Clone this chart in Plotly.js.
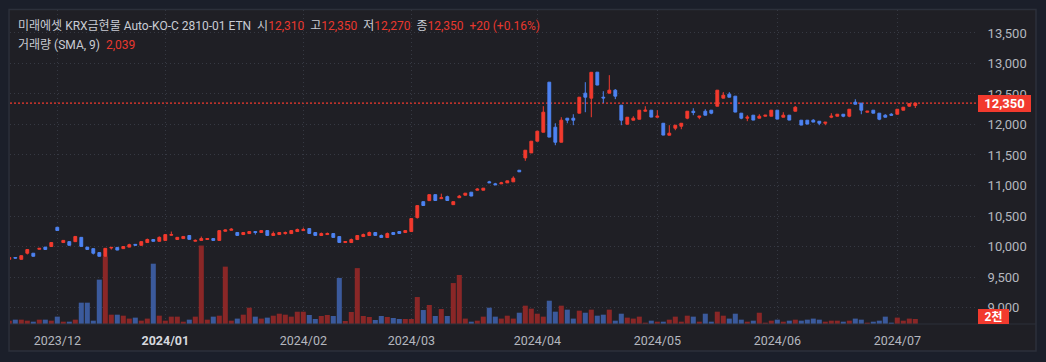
<!DOCTYPE html>
<html>
<head>
<meta charset="utf-8">
<script src="https://cdn.plot.ly/plotly-3.0.1.min.js"></script>
<style>
  html, body { margin: 0; padding: 0; background: #1b1f2a; }
  #chart { width: 1046px; height: 362px; }
</style>
</head>
<body>
<div id="chart"></div>
<script>
// ---- data (one entry per trading day, left to right) ----
const openP = [
  9790, 9820, 9790, 9890, 9890, 9955, 9990, 10000, 10315, 10065,
  10080, 10080, 10150, 9990, 9965, 9900, 9840, 9975, 9985, 9965,
  9990, 10035, 10020, 10065, 10115, 10085, 10100, 10185, 10115, 10130,
  10180, 10087, 10100, 10115, 10130, 10100, 10250, 10266, 10230, 10196,
  10212, 10245, 10229, 10261, 10180, 10196, 10212, 10212, 10245, 10261,
  10294, 10229, 10180, 10196, 10212, 10163, 10065, 10065, 10114, 10163,
  10180, 10229, 10180, 10147, 10229, 10245, 10229, 10245, 10474, 10735,
  10752, 10850, 10784, 10817, 10686, 10800, 10841, 10890, 10923, 10923,
  11060, 11027, 11027, 11043, 11060, 11250, 11452, 11534, 11726, 11873,
  12693, 11955, 11709, 12103, 12103, 12185, 12513, 12431, 12857, 12447,
  12513, 12562, 12316, 12004, 12070, 12086, 12217, 12234, 12119, 12020,
  11824, 11939, 11971, 12103, 12217, 12119, 12217, 12234, 12299, 12431,
  12497, 12464, 12185, 12103, 12152, 12103, 12135, 12135, 12234, 12119,
  12152, 12217, 12070, 12070, 12070, 12053, 12020, 12119, 12135, 12168,
  12135, 12365, 12349, 12201, 12234, 12185, 12152, 12168, 12168, 12234,
  12300, 12310
];
const highP = [
  9825, 9822, 9852, 9955, 9892, 9972, 9992, 10065, 10318, 10100,
  10082, 10165, 10152, 9992, 9967, 9902, 9970, 9988, 9987, 10000,
  10045, 10036, 10082, 10130, 10117, 10165, 10196, 10245, 10150, 10165,
  10182, 10115, 10163, 10132, 10132, 10262, 10280, 10300, 10232, 10230,
  10246, 10247, 10262, 10263, 10245, 10230, 10245, 10262, 10294, 10310,
  10296, 10231, 10229, 10229, 10214, 10165, 10084, 10130, 10181, 10212,
  10245, 10231, 10196, 10229, 10231, 10247, 10262, 10460, 10672, 10737,
  10852, 10852, 10866, 10833, 10737, 10845, 10876, 10892, 10956, 10958,
  11076, 11043, 11060, 11078, 11150, 11252, 11580, 11728, 11892, 12300,
  12695, 12020, 12119, 12105, 12168, 12449, 12693, 12857, 12859, 12545,
  12808, 12580, 12318, 12121, 12135, 12236, 12299, 12236, 12234, 12022,
  11988, 11990, 12022, 12219, 12266, 12137, 12250, 12236, 12564, 12530,
  12530, 12466, 12187, 12152, 12154, 12168, 12154, 12236, 12236, 12201,
  12154, 12299, 12072, 12072, 12086, 12055, 12039, 12185, 12170, 12170,
  12252, 12414, 12351, 12219, 12236, 12187, 12168, 12185, 12252, 12285,
  12350, 12350
];
const lowP = [
  9785, 9805, 9788, 9870, 9836, 9953, 9950, 9998, 10260, 10063,
  10018, 10078, 10000, 9950, 9870, 9836, 9836, 9950, 9940, 9963,
  9988, 10020, 10018, 10063, 10083, 10083, 10098, 10180, 10113, 10128,
  10115, 10085, 10098, 10113, 10098, 10098, 10248, 10264, 10180, 10194,
  10210, 10196, 10227, 10180, 10178, 10194, 10196, 10210, 10243, 10259,
  10212, 10180, 10178, 10194, 10147, 10065, 10063, 10063, 10112, 10161,
  10178, 10180, 10147, 10145, 10196, 10212, 10227, 10243, 10458, 10670,
  10750, 10752, 10782, 10752, 10684, 10797, 10839, 10825, 10921, 10921,
  11043, 11010, 11025, 11041, 11058, 11222, 11404, 11532, 11724, 11871,
  11791, 11660, 11707, 12020, 11988, 12183, 12201, 12119, 12644, 12350,
  12511, 12415, 11988, 12002, 12068, 12084, 12215, 12119, 12117, 11824,
  11822, 11906, 11922, 12086, 12152, 12086, 12150, 12168, 12297, 12429,
  12445, 12201, 12086, 12054, 12070, 12101, 12133, 12133, 12086, 12117,
  12070, 12215, 11988, 12004, 12037, 11988, 11988, 12103, 12133, 12119,
  12119, 12330, 12168, 12199, 12183, 12070, 12117, 12150, 12166, 12232,
  12290, 12270
];
const closeP = [
  9820, 9810, 9850, 9950, 9840, 9970, 9952, 10065, 10262, 10100,
  10020, 10165, 10002, 9952, 9890, 9840, 9970, 9985, 9942, 10000,
  10030, 10022, 10080, 10115, 10085, 10150, 10195, 10195, 10150, 10165,
  10117, 10100, 10130, 10130, 10100, 10260, 10272, 10283, 10182, 10229,
  10245, 10230, 10261, 10182, 10212, 10229, 10229, 10261, 10278, 10278,
  10214, 10182, 10212, 10212, 10149, 10067, 10082, 10114, 10180, 10196,
  10229, 10182, 10149, 10212, 10198, 10214, 10261, 10458, 10670, 10672,
  10850, 10754, 10800, 10754, 10735, 10825, 10874, 10827, 10940, 10956,
  11045, 11012, 11043, 11076, 11120, 11224, 11578, 11726, 11890, 12201,
  11793, 11709, 12070, 12070, 12070, 12447, 12447, 12855, 12646, 12435,
  12562, 12464, 12070, 12119, 12103, 12234, 12234, 12121, 12135, 11826,
  11857, 11988, 12020, 12217, 12195, 12135, 12152, 12185, 12562, 12480,
  12447, 12203, 12103, 12119, 12072, 12135, 12152, 12234, 12088, 12152,
  12072, 12283, 11990, 12006, 12039, 12020, 12037, 12135, 12168, 12135,
  12250, 12332, 12234, 12217, 12185, 12086, 12119, 12152, 12250, 12283,
  12340, 12350
];
const volume = [
  1360, 1770, 1770, 1360, 950, 1770, 1770, 1360, 3000, 950,
  950, 1770, 8700, 8700, 1360, 18100, 27600, 3800, 3800, 3400,
  2200, 2600, 1360, 2200, 24600, 3400, 1360, 3000, 3000, 950,
  1770, 3000, 32000, 1770, 3000, 3400, 23400, 1360, 2200, 3800,
  6650, 3000, 2200, 2600, 3400, 4200, 3800, 3000, 5000, 5000,
  3670, 2040, 3260, 3670, 3260, 18800, 1220, 4900, 22800, 3260,
  2860, 1630, 3260, 2860, 2450, 2040, 2040, 2040, 11000, 5700,
  7750, 3260, 6100, 3260, 16700, 20000, 2200, 950, 1360, 3000,
  6650, 3000, 2200, 3400, 2200, 4600, 7470, 6250, 4200, 3000,
  9500, 5020, 7470, 5840, 2200, 5440, 4600, 5840, 3400, 3800,
  5840, 1360, 4200, 2600, 2200, 3000, 540, 1360, 950, 950,
  1770, 3000, 950, 3400, 3000, 950, 4200, 950, 5020, 3400,
  2200, 4200, 1770, 950, 1360, 4600, 540, 1360, 1770, 950,
  1360, 1770, 1360, 1770, 2200, 1770, 950, 1360, 1360, 950,
  1360, 2200, 1770, 540, 950, 1360, 3000, 540, 2600, 1360,
  2200, 2039
];
// first bar of each month and its label
const monthStartBar = [8, 26, 49, 67, 88, 108, 128, 148];
const monthLabels = ['2023/12', '2024/01', '2024/02', '2024/03', '2024/04', '2024/05', '2024/06', '2024/07'];
const priceTicks = [9000, 9500, 10000, 10500, 11000, 11500, 12000, 12500, 13000, 13500];
const lastPrice = 12350;
const lastVolumeLabel = '2천';
const titleName = '미래에셋 KRX금현물 Auto-KO-C 2810-01 ETN';
const ohlcLabels = ['시', '고', '저', '종'];
const ohlcValues = ['12,310', '12,350', '12,270', '12,350'];
const changeText = '+20 (+0.16%)';
const volumeTitle = '거래량 (SMA, 9)';
const volumeValue = '2,039';

// ---- styling ----
const UP = '#f23a2e', DOWN = '#4d83f2';
const UP_VOL = '#8a2727', DOWN_VOL = '#3b5a9c';
const GRID = '#363943';
const FONT = "Roboto, 'Noto Sans CJK KR', sans-serif";
const TXT = '#b4b7bf';
const RED_TXT = '#e8382e';

const idx = openP.map((_, i) => i);
const volColors = openP.map((o, i) => closeP[i] >= o ? UP_VOL : DOWN_VOL);

const volTrace = {
  type: 'bar', x: idx, y: volume, yaxis: 'y', xaxis: 'x',
  marker: { color: volColors, line: { width: 0 } },
  width: 0.84, hoverinfo: 'skip', showlegend: false
};
const candleTrace = {
  type: 'candlestick', x: idx, open: openP, high: highP, low: lowP, close: closeP,
  xaxis: 'x', yaxis: 'y2',
  increasing: { line: { color: UP, width: 1 }, fillcolor: UP },
  decreasing: { line: { color: DOWN, width: 1 }, fillcolor: DOWN },
  whiskerwidth: 0, hoverinfo: 'skip', showlegend: false
};

const sp = '\u00a0\u00a0';
let line1 = titleName + sp;
ohlcLabels.forEach((l, k) => {
  line1 += l + '<span style="color:' + RED_TXT + '">' + ohlcValues[k] + '</span>' + sp;
});
line1 += '<span style="color:' + RED_TXT + '">' + changeText + '</span>';
const line2 = volumeTitle + sp + '<span style="color:' + RED_TXT + '">' + volumeValue + '</span>';

const tickText = monthLabels.map(t => t.endsWith('/01') ? '<b><span style="color:#d6d8de">' + t + '</span></b>' : t);

const layout = {
  width: 1046, height: 362,
  margin: { l: 10, r: 71, t: 10, b: 38, pad: 0 },
  paper_bgcolor: '#1b1f2a',
  plot_bgcolor: 'rgba(0,0,0,0)',
  font: { family: FONT, color: TXT },
  showlegend: false,
  hovermode: false,
  boxgap: 0.33,
  bargap: 0.16,
  xaxis: {
    range: [0.1167, 160.95],
    fixedrange: true,
    tickmode: 'array', tickvals: monthStartBar, ticktext: tickText,
    ticks: 'outside', ticklen: 5, tickcolor: 'rgba(0,0,0,0)',
    tickfont: { size: 12.5, color: TXT, family: FONT },
    showgrid: true, gridcolor: GRID, griddash: '1px,3px', gridwidth: 1,
    zeroline: false, showline: false,
    rangeslider: { visible: false }
  },
  yaxis: {
    range: [0, 128100], visible: false, fixedrange: true,
    showgrid: false, zeroline: false
  },
  yaxis2: {
    overlaying: 'y', side: 'right', anchor: 'x',
    range: [8730, 13876], fixedrange: true,
    tickmode: 'array', tickvals: priceTicks, tickformat: ',d',
    ticks: 'outside', ticklen: 9, tickcolor: 'rgba(0,0,0,0)',
    tickfont: { size: 13, color: TXT, family: FONT },
    showgrid: true, gridcolor: GRID, griddash: '1px,3px', gridwidth: 1,
    zeroline: false, showline: false
  },
  shapes: [
    { type: 'rect', xref: 'paper', yref: 'paper', x0: -0.0010, x1: 1.0632, y0: -0.0860, y1: 1.0016,
      fillcolor: '#1f1f25', line: { color: '#2c303b', width: 1.5 }, layer: 'below' },
    { type: 'line', xref: 'paper', yref: 'paper', x0: -0.0010, x1: 1.0632, y0: 0, y1: 0,
      line: { color: '#2c303b', width: 1 }, layer: 'above' },
    { type: 'line', xref: 'paper', yref: 'y2', x0: 0, x1: 1.0031, y0: lastPrice, y1: lastPrice,
      line: { color: UP, width: 1.2, dash: '2px,2px' }, layer: 'between' }
  ],
  annotations: [
    { xref: 'paper', yref: 'paper', x: 0.0062, y: 0.949, xanchor: 'left', yanchor: 'middle',
      text: line1, showarrow: false, align: 'left',
      font: { size: 12, color: '#c9ccd4', family: FONT } },
    { xref: 'paper', yref: 'paper', x: 0.0062, y: 0.8885, xanchor: 'left', yanchor: 'middle',
      text: line2, showarrow: false, align: 'left',
      font: { size: 12, color: '#c9ccd4', family: FONT } },
    { xref: 'paper', yref: 'y2', x: 1.0031, y: lastPrice, xanchor: 'left', yanchor: 'middle',
      text: '<b>' + lastPrice.toLocaleString('en-US') + '</b>', showarrow: false,
      bgcolor: UP, borderpad: 2, borderwidth: 0, width: 49, height: 13, align: 'center',
      font: { size: 13, color: '#ffffff', family: FONT } },
    { xref: 'paper', yref: 'paper', x: 1.0031, y: 0.0015, xanchor: 'left', yanchor: 'bottom',
      text: '<b>' + lastVolumeLabel + '</b>', showarrow: false,
      bgcolor: UP, borderpad: 2, borderwidth: 0, width: 27, height: 11, align: 'center',
      font: { size: 12, color: '#ffffff', family: FONT } }
  ]
};

Plotly.newPlot('chart', [volTrace, candleTrace], layout, { staticPlot: true, displayModeBar: false });
</script>
</body>
</html>
